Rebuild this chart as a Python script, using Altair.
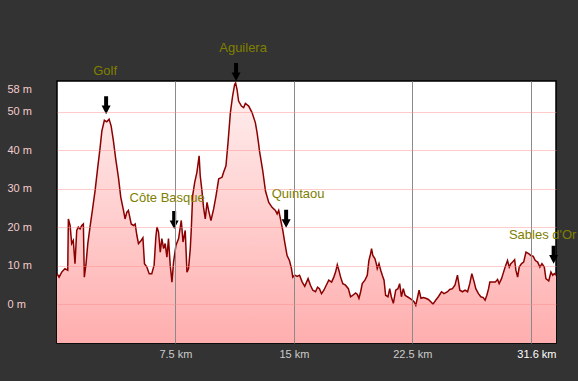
import altair as alt
import pandas as pd

# Elevation profile (distance in km, elevation in m)
dist_km = [0.0, 0.13, 0.3, 0.5, 0.68, 0.72, 0.83, 0.93, 1.03, 1.14, 1.25, 1.35, 1.46, 1.57, 1.67,
           1.73, 1.84, 1.95, 2.09, 2.24, 2.41, 2.58, 2.73, 2.84, 3.0, 3.15, 3.3, 3.43, 3.57, 3.72,
           3.89, 4.04, 4.21, 4.31, 4.42, 4.52, 4.7, 4.84, 4.95, 5.06, 5.16, 5.33, 5.44, 5.54, 5.69,
           5.84, 6.0, 6.15, 6.26, 6.33, 6.43, 6.54, 6.64, 6.75, 6.85, 6.96, 7.06, 7.17, 7.28, 7.38,
           7.53, 7.7, 7.87, 7.98, 8.12, 8.23, 8.33, 8.44, 8.5, 8.59, 8.72, 8.86, 9.0, 9.07, 9.18,
           9.28, 9.39, 9.5, 9.6, 9.75, 9.92, 10.07, 10.24, 10.45, 10.55, 10.7, 10.83, 10.98, 11.12,
           11.25, 11.31, 11.4, 11.5, 11.68, 11.82, 11.93, 12.14, 12.35, 12.56, 12.67, 12.77, 12.82,
           13.03, 13.2, 13.41, 13.62, 13.83, 13.94, 14.04, 14.15, 14.3, 14.42, 14.57, 14.72, 14.85,
           14.93, 15.06, 15.21, 15.36, 15.53, 15.69, 15.9, 16.05, 16.2, 16.37, 16.5, 16.62, 16.75,
           16.9, 17.05, 17.21, 17.39, 17.53, 17.64, 17.75, 17.85, 17.96, 18.1, 18.27, 18.45, 18.59,
           18.74, 18.91, 19.02, 19.12, 19.23, 19.33, 19.5, 19.65, 19.75, 19.86, 19.92, 20.0, 20.13,
           20.22, 20.28, 20.39, 20.5, 20.6, 20.71, 20.81, 20.96, 21.07, 21.17, 21.3, 21.45, 21.59,
           21.7, 21.81, 21.93, 22.04, 22.19, 22.35, 22.51, 22.61, 22.72, 22.84, 22.93, 23.05, 23.2,
           23.35, 23.52, 23.67, 23.81, 23.98, 24.15, 24.35, 24.51, 24.73, 24.87, 25.04, 25.2, 25.36,
           25.51, 25.68, 25.84, 26.0, 26.14, 26.27, 26.42, 26.52, 26.69, 26.84, 26.99, 27.11, 27.22,
           27.33, 27.41, 27.58, 27.75, 27.9, 28.0, 28.15, 28.25, 28.38, 28.53, 28.64, 28.74, 28.85,
           28.98, 29.06, 29.17, 29.27, 29.42, 29.55, 29.7, 29.87, 30.01, 30.16, 30.29, 30.44, 30.58,
           30.71, 30.86, 30.96, 31.14, 31.28, 31.39, 31.49, 31.6]
elev_m = [8.0, 7.1, 8.4, 9.3, 8.9, 22.2, 20.5, 15.8, 16.6, 10.6, 19.2, 20.1, 19.6, 20.5, 20.9,
          7.1, 10.6, 15.8, 20.1, 24.4, 29.5, 35.6, 40.7, 45.0, 47.8, 47.4, 48.1, 46.3, 42.5, 37.7,
          33.0, 27.8, 24.4, 22.2, 23.9, 24.4, 20.9, 20.5, 20.9, 17.9, 15.8, 16.6, 17.3, 10.6, 9.7,
          8.0, 8.0, 10.2, 17.5, 20.1, 18.8, 13.6, 17.1, 14.5, 15.8, 12.3, 17.1, 10.2, 5.8, 11.0,
          15.3, 17.1, 21.8, 16.2, 19.2, 8.4, 9.3, 14.5, 19.2, 28.2, 31.7, 34.3, 38.6, 33.4, 29.5,
          25.2, 22.2, 26.5, 24.4, 21.8, 24.8, 28.2, 32.6, 33.0, 34.3, 36.0, 42.0, 49.8, 54.1,
          57.1, 57.5, 55.8, 52.8, 51.5, 51.1, 52.2, 51.5, 49.8, 47.2, 44.6, 41.6, 39.9,
          34.7, 29.5, 26.5, 25.2, 24.4, 23.5, 24.4, 22.2, 19.2, 16.2, 12.7, 11.4, 9.3,
          7.1, 7.6, 7.3, 7.6, 5.8, 4.7, 6.7, 5.0, 3.7, 3.3, 4.5, 4.1, 2.8,
          3.7, 5.0, 6.3, 5.8, 7.1, 8.4, 10.3, 8.9, 7.1, 5.4, 5.0, 4.1, 2.0,
          2.4, 3.0, 2.6, 1.6, 3.3, 5.4, 6.3, 7.6, 11.4, 13.2, 14.5, 12.7, 11.9,
          10.6, 9.3, 10.6, 8.9, 7.6, 6.3, 2.4, 2.0, 4.1, 2.0, 0.3, 3.7, 4.1,
          5.4, 2.0, 4.1, 2.4, 2.0, 1.6, 1.1, 0.7, -0.2, 2.0, 3.7, 1.6, 1.8,
          1.6, 1.3, 0.7, 0.1, 1.1, 2.0, 3.3, 2.8, 3.3, 3.9, 4.1, 5.0, 7.6,
          3.7, 3.3, 3.7, 3.3, 5.4, 8.0, 5.8, 4.1, 2.8, 2.0, 1.8, 1.1, 2.4,
          4.1, 5.8, 5.8, 5.8, 6.5, 5.4, 6.7, 8.0, 9.7, 11.4, 9.7, 10.6, 11.0,
          11.6, 8.9, 7.1, 9.7, 10.6, 11.0, 13.6, 13.2, 12.7, 12.5, 11.4, 11.0, 9.7,
          10.6, 9.7, 6.7, 6.1, 8.4, 7.6, 8.0, 7.6]

# Named places (arrow tip position)
place_names = ["Golf", "Aguilera", "Côte Basque", "Quintaou", "Sables d'Or"]
place_km = [3.11, 11.34, 7.42, 14.51, 31.45]
place_m = [49.4, 58.0, 19.6, 19.9, 10.6]

x_ticks = [7.5, 15, 22.5, 30, 31.6]
y_ticks = [0, 10, 20, 30, 40, 50, 58]

profile = pd.DataFrame({"km": dist_km, "m": elev_m})
places = pd.DataFrame({"name": place_names, "km": place_km, "m": place_m})

# label offsets (pixels) from arrow tip
label_offsets = {
    "Golf": (-1, -43),
    "Aguilera": (7, -33),
    "Côte Basque": (-7, -31),
    "Quintaou": (12, -34),
    "Sables d'Or": (-11, -29),
}

x_enc = alt.X(
    "km:Q",
    scale=alt.Scale(domain=[0, 31.6], nice=False, zero=False),
    axis=alt.Axis(
        values=x_ticks,
        title=None,
        domain=False,
        ticks=False,
        tickSize=0,
        labelPadding=5,
        labelFont="Liberation Sans",
        labelFontSize=11,
        labelExpr="datum.value == 30 ? '' : datum.value + ' km'",
        labelAlign={"condition": {"test": "datum.value == 31.6", "value": "right"}, "value": "center"},
        labelColor={"condition": {"test": "datum.value == 31.6", "value": "#ffffff"}, "value": "#cccccc"},
        labelFlush=False,
        labelOverlap=False,
        grid=True,
        gridColor="#8a8a8a",
        gridWidth=1,
        gridOpacity={"condition": {"test": "datum.value == 31.6", "value": 0}, "value": 1},
        zindex=1,
    ),
)
y_enc = alt.Y(
    "m:Q",
    scale=alt.Scale(domain=[-10, 58], nice=False, zero=False),
    axis=alt.Axis(
        values=y_ticks,
        title=None,
        domain=False,
        ticks=False,
        tickSize=0,
        labelPadding=50,
        labelAlign="left",
        labelFont="Liberation Sans",
        labelFontSize=11,
        labelColor="#f4cccc",
        labelExpr="datum.value + ' m'",
        labelOffset={"condition": {"test": "datum.value == 58", "value": 8}, "value": 0},
        labelFlush=False,
        labelOverlap=False,
        grid=True,
        gridColor="#ff8c8c",
        gridOpacity={"condition": {"test": "datum.value == 58", "value": 0}, "value": 0.45},
        zindex=1,
    ),
)

base = alt.Chart(profile)

area = base.mark_area(
    color=alt.Gradient(
        gradient="linear",
        stops=[alt.GradientStop(color="#fff0f0", offset=0),
               alt.GradientStop(color="#ffaeae", offset=1)],
        x1=1, x2=1, y1=0, y2=1,
    ),
    interpolate="linear",
).encode(x=x_enc, y=y_enc, y2=alt.datum(-10))

line = base.mark_line(color="#8b0000", strokeWidth=1.5, interpolate="linear").encode(
    x="km:Q", y="m:Q"
)

arrow_path = "M-0.22,-2 L0.22,-2 L0.22,-0.95 L0.5,-0.95 L0,0 L-0.5,-0.95 L-0.22,-0.95 Z"
arrows = alt.Chart(places).mark_point(
    shape=arrow_path, size=324, filled=True, color="#000000", opacity=1, strokeWidth=0
).encode(x="km:Q", y="m:Q")

layers = [area, line, arrows]
for name in place_names:
    dx, dy = label_offsets[name]
    layers.append(
        alt.Chart(places)
        .transform_filter(alt.datum.name == name)
        .mark_text(
            font="Liberation Sans", fontSize=13, color="#808000",
            align="center", baseline="middle", dx=dx, dy=dy,
        )
        .encode(x="km:Q", y="m:Q", text="name:N")
    )

chart = (
    alt.layer(*layers)
    .properties(
        width=499,
        height=262,
        autosize="none",
        padding={"left": 57, "top": 81, "right": 22, "bottom": 38},
        background="#333333",
    )
    .configure_view(fill="#ffffff", stroke="#000000", strokeWidth=1.5)
)

chart.save("out.html", embed_options={"renderer": "svg", "actions": False})
